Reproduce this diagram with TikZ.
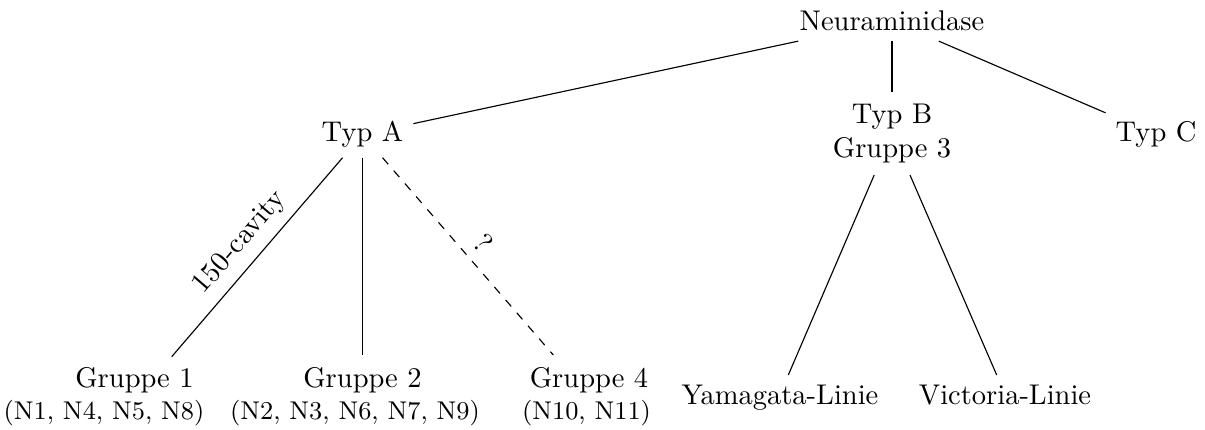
\documentclass[tikz,border=0pt]{standalone}
\begin{document}
\begin{tikzpicture}[x=0.3509pt,y=-0.3509pt,
  leaf/.style={anchor=base},
  sublbl/.style={anchor=base,font=\small},
  conn/.style={draw,line width=0.4pt},
  elbl/.style={midway,above,sloped}]
\useasboundingbox (0,0) rectangle (1205,429);
\node (neur) at (892,21) {Neuraminidase};
\node (typA) at (362.5,134.5) {Typ A};
\node[align=center,inner ysep=4pt] (typB) at (892,133.5) {Typ B\\Gruppe 3};
\node (typC) at (1156,134.5) {Typ C};
\node[leaf] (g1) at (134.5,387.7) {Gruppe 1};
\node[leaf] (g2) at (362.5,387.7) {Gruppe 2};
\node[leaf] (g4) at (589,387.7) {Gruppe 4};
\node[sublbl] (s1) at (104,419) {(N1, N4, N5, N8)};
\node[sublbl] (s2) at (355,419) {(N2, N3, N6, N7, N9)};
\node[sublbl] (s4) at (586.5,419) {(N10, N11)};
\node[leaf] (yam) at (780,404) {Yamagata-Linie};
\node[leaf] (vic) at (1005,404) {Victoria-Linie};
\coordinate (g1e) at (171.7,356.7);
\coordinate (g2e) at (362.5,355);
\coordinate (g4e) at (553.3,355);
\coordinate (yle) at (788.3,375);
\coordinate (vle) at (996.7,375);
\draw[conn] (neur) -- (typA);
\draw[conn] (neur) -- (typB);
\draw[conn] (neur) -- (typC);
\draw[conn] (typA) -- node[elbl] {150-cavity} (g1e);
\draw[conn] (typA) -- (g2e);
\draw[conn,dashed] (typA) -- node[elbl] {?} (g4e);
\draw[conn] (typB) -- (yle);
\draw[conn] (typB) -- (vle);
\end{tikzpicture}
\end{document}
